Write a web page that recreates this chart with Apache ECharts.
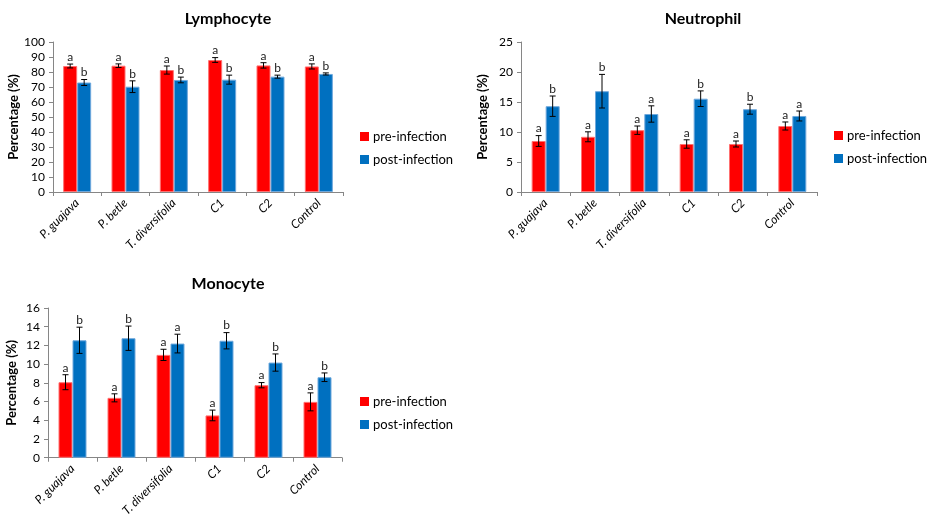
<!DOCTYPE html>
<html>
<head>
<meta charset="utf-8">
<script src="https://cdn.jsdelivr.net/npm/echarts@6/dist/echarts.min.js"></script>
<style>html,body{margin:0;padding:0;background:#fff}#c{width:931px;height:519px}</style>
</head>
<body>
<div id="c"></div>
<script>
const categories = ['P. guajava', 'P. betle', 'T. diversifolia', 'C1', 'C2', 'Control'];
const seriesNames = ['pre-infection', 'post-infection'];

const lymphPre = [84.0, 84.2, 81.3, 88.0, 84.4, 83.7];
const lymphPreErr = [1.3, 1.2, 2.7, 1.6, 1.8, 1.7];
const lymphPreSig = ['a', 'a', 'a', 'a', 'a', 'a'];
const lymphPost = [73.0, 70.2, 74.7, 74.9, 76.9, 78.7];
const lymphPostErr = [2.0, 3.9, 1.9, 3.0, 1.0, 0.7];
const lymphPostSig = ['b', 'b', 'b', 'b', 'b', 'b'];

const neutroPre = [8.5, 9.2, 10.3, 8.0, 8.0, 11.0];
const neutroPreErr = [0.9, 0.83, 0.7, 0.7, 0.5, 0.67];
const neutroPreSig = ['a', 'a', 'a', 'a', 'a', 'a'];
const neutroPost = [14.3, 16.8, 13.0, 15.55, 13.8, 12.67];
const neutroPostErr = [1.7, 2.8, 1.36, 1.3, 0.83, 0.83];
const neutroPostSig = ['b', 'b', 'a', 'b', 'b', 'a'];

const monoPre = [8.07, 6.4, 10.99, 4.52, 7.75, 5.97];
const monoPreErr = [0.8, 0.43, 0.6, 0.57, 0.28, 0.96];
const monoPreSig = ['a', 'a', 'a', 'a', 'a', 'a'];
const monoPost = [12.55, 12.77, 12.2, 12.5, 10.17, 8.6];
const monoPostErr = [1.4, 1.3, 1.0, 0.87, 0.92, 0.46];
const monoPostSig = ['b', 'b', 'a', 'b', 'b', 'b'];

const yTicks = [
  { min: 0, max: 100, interval: 10 },
  { min: 0, max: 25, interval: 5 },
  { min: 0, max: 16, interval: 2 }
];

const FONT = 'Lato, "Open Sans", sans-serif';
const RED = '#FF0000', BLUE = '#0070C0';
const BAR_W = 14;

const panels = [
  { title: 'Lymphocyte', pre: lymphPre, preErr: lymphPreErr, preSig: lymphPreSig, post: lymphPost, postErr: lymphPostErr, postSig: lymphPostSig,
    grid: { left: 53, top: 42, width: 290, height: 150 }, titlePos: [228, 19], legendPos: [360, 130] },
  { title: 'Neutrophil', pre: neutroPre, preErr: neutroPreErr, preSig: neutroPreSig, post: neutroPost, postErr: neutroPostErr, postSig: neutroPostSig,
    grid: { left: 521, top: 42, width: 296, height: 150 }, titlePos: [703, 19], legendPos: [834, 129] },
  { title: 'Monocyte', pre: monoPre, preErr: monoPreErr, preSig: monoPreSig, post: monoPost, postErr: monoPostErr, postSig: monoPostSig,
    grid: { left: 48, top: 308, width: 294, height: 150 }, titlePos: [228, 284], legendPos: [360, 395] }
];

function errSeries(gi, vals, errs, sigs, dx, name) {
  return {
    type: 'custom', name: name, xAxisIndex: gi, yAxisIndex: gi, z: 5, silent: true,
    data: vals.map((v, i) => [i, v, errs[i]]),
    encode: { x: 0, y: 1 },
    renderItem: function (params, api) {
      const i = api.value(0), v = api.value(1), e = api.value(2);
      const top = api.coord([i, v + e]);
      const bot = api.coord([i, v - e]);
      const x = top[0] + dx;
      const cap = 3;
      return {
        type: 'group',
        children: [
          { type: 'line', shape: { x1: x, y1: top[1], x2: x, y2: bot[1] }, style: { stroke: '#000', lineWidth: 1 } },
          { type: 'line', shape: { x1: x - cap, y1: top[1], x2: x + cap, y2: top[1] }, style: { stroke: '#000', lineWidth: 1 } },
          { type: 'line', shape: { x1: x - cap, y1: bot[1], x2: x + cap, y2: bot[1] }, style: { stroke: '#000', lineWidth: 1 } },
          { type: 'text', x: x, y: top[1] - 1, style: { text: sigs[params.dataIndex], fill: '#222', font: '12px ' + FONT, textAlign: 'center', textVerticalAlign: 'bottom' } }
        ]
      };
    }
  };
}

const option = {
  animation: false,
  backgroundColor: '#fff',
  textStyle: { fontFamily: FONT },
  grid: [], xAxis: [], yAxis: [], legend: [], series: [], graphic: []
};

panels.forEach((p, gi) => {
  option.grid.push(p.grid);
  option.xAxis.push({
    type: 'category', gridIndex: gi, data: categories,
    axisLine: { lineStyle: { color: '#868686' } },
    axisTick: { show: true, length: 4, lineStyle: { color: '#868686' } },
    axisLabel: { rotate: 45, fontStyle: 'italic', fontSize: 12, color: '#000', margin: 9, fontFamily: FONT, interval: 0 }
  });
  option.yAxis.push({
    type: 'value', gridIndex: gi, min: yTicks[gi].min, max: yTicks[gi].max, interval: yTicks[gi].interval,
    name: 'Percentage (%)', nameLocation: 'middle', nameGap: gi === 2 ? 30 : 32,
    nameTextStyle: { fontWeight: 'bold', fontSize: 13, color: '#000', fontFamily: FONT },
    axisLine: { show: true, lineStyle: { color: '#868686' } },
    axisTick: { show: true, length: 4, lineStyle: { color: '#868686' } },
    axisLabel: { fontSize: 12, color: '#000', margin: 8, fontFamily: FONT },
    splitLine: { show: false }
  });
  option.series.push({
    type: 'bar', name: seriesNames[0], xAxisIndex: gi, yAxisIndex: gi, data: p.pre,
    barWidth: BAR_W, barGap: '0%',
    itemStyle: { color: RED, borderColor: '#FF7070', borderWidth: 1 }
  });
  option.series.push({
    type: 'bar', name: seriesNames[1], xAxisIndex: gi, yAxisIndex: gi, data: p.post,
    barWidth: BAR_W, barGap: '0%',
    itemStyle: { color: BLUE, borderColor: '#6FA8DC', borderWidth: 1 }
  });
  option.series.push(errSeries(gi, p.pre, p.preErr, p.preSig, -BAR_W / 2, seriesNames[0]));
  option.series.push(errSeries(gi, p.post, p.postErr, p.postSig, BAR_W / 2, seriesNames[1]));
  option.legend.push({
    data: [{ name: seriesNames[0], itemStyle: { color: RED, borderWidth: 0 } }, { name: seriesNames[1], itemStyle: { color: BLUE, borderWidth: 0 } }],
    orient: 'vertical', left: p.legendPos[0], top: p.legendPos[1], padding: 0,
    itemWidth: 9, itemHeight: 9, itemGap: 10, icon: 'rect',
    itemStyle: { borderWidth: 0 },
    textStyle: { fontSize: 13, color: '#000', fontFamily: FONT, padding: [0, 0, 0, -1] }
  });
  option.graphic.push({
    type: 'text', x: p.titlePos[0], y: p.titlePos[1],
    style: { text: p.title, font: 'bold 16px ' + FONT, fill: '#000', textAlign: 'center', textVerticalAlign: 'middle' }
  });
});

const chart = echarts.init(document.getElementById('c'), null, { renderer: 'canvas' });
chart.setOption(option);
</script>
</body>
</html>
